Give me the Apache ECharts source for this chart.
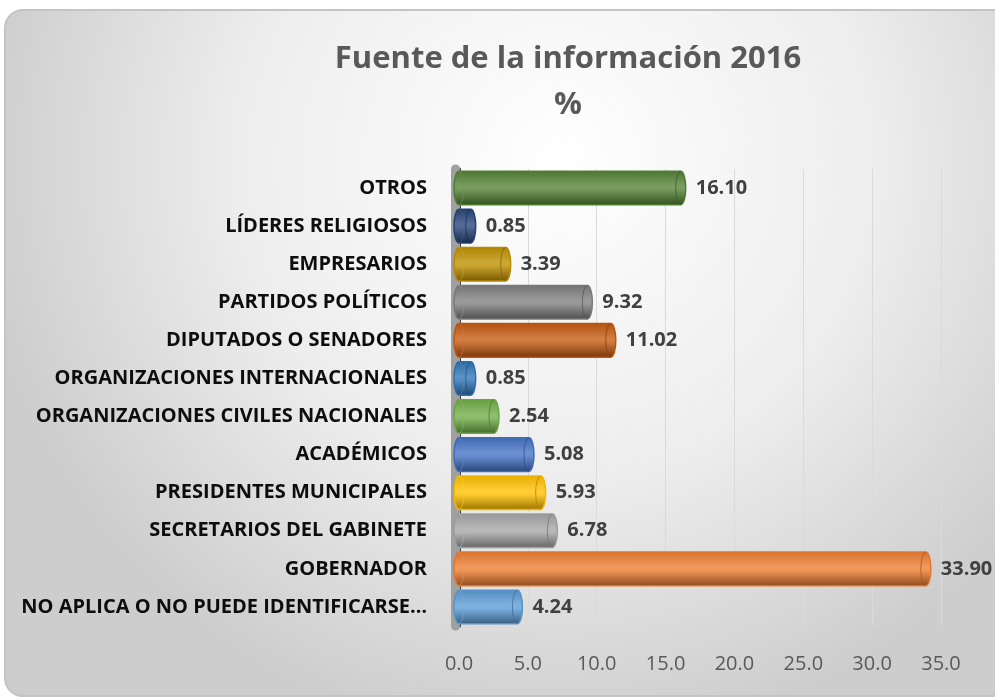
<!DOCTYPE html>
<html><head><meta charset="utf-8">
<script src="https://cdn.jsdelivr.net/npm/echarts@6/dist/echarts.min.js"></script>
<style>html,body{margin:0;padding:0;background:#fff}#c{width:995px;height:699px}</style>
</head><body><div id="c"></div>
<script>
const categories = ["OTROS","LÍDERES RELIGIOSOS","EMPRESARIOS","PARTIDOS POLÍTICOS","DIPUTADOS O SENADORES","ORGANIZACIONES INTERNACIONALES","ORGANIZACIONES CIVILES NACIONALES","ACADÉMICOS","PRESIDENTES MUNICIPALES","SECRETARIOS DEL GABINETE","GOBERNADOR","NO APLICA O NO PUEDE IDENTIFICARSE…"];
const values = [16.10,0.85,3.39,9.32,11.02,0.85,2.54,5.08,5.93,6.78,33.90,4.24];
const barColors = ["#548235","#264478","#bf9000","#7f7f7f","#c55a11","#2e75b6","#70ad47","#4472c4","#ffc000","#a5a5a5","#ed7d31","#5b9bd5"];
const xTicks = [0,5,10,15,20,25,30,35];

function mix(hex, t, target){
  const n=parseInt(hex.slice(1),16); const r=n>>16&255,g=n>>8&255,b=n&255;
  const T=target==='w'?255:0;
  const f=c=>Math.round(c+(T-c)*t);
  return 'rgb('+f(r)+','+f(g)+','+f(b)+')';
}
const FONT='"Open Sans", Lato, sans-serif';
const chart=echarts.init(document.getElementById('c'),null,{renderer:'canvas'});
const data=values.map((v,i)=>[v,i]);
chart.setOption({
  animation:false,
  graphic:[{type:'rect',z:-10,shape:{x:5,y:10,width:1005,height:686,r:18},
    style:{fill:{type:'radial',x:0.55,y:0.22,r:0.85,colorStops:[{offset:0,color:'#ffffff'},{offset:0.55,color:'#ededed'},{offset:1,color:'#cdcdcd'}]},stroke:'#c4c4c4',lineWidth:2}}],
  title:{text:'Fuente de la información 2016\n%',left:563,top:31,textAlign:'center',
    textStyle:{fontFamily:FONT,fontWeight:'bold',fontSize:31,color:'#595959',lineHeight:46}},
  grid:{left:459,right:54,top:169,bottom:73},
  xAxis:{type:'value',min:xTicks[0],max:xTicks[xTicks.length-1],interval:5,
    axisLine:{show:false},axisTick:{show:false},
    splitLine:{lineStyle:{color:'#dadada',width:1}},
    axisLabel:{formatter:v=>v.toFixed(1),fontFamily:FONT,fontSize:20,color:'#595959',margin:28}},
  yAxis:[{type:'category',data:categories,inverse:true,offset:10,
    axisLine:{lineStyle:{color:'#404040',width:3}},axisTick:{show:false},
    axisLabel:{fontFamily:FONT,fontWeight:'bold',fontSize:20,color:'#0d0d0d',margin:22}},
   {type:'category',data:categories,inverse:true,position:'left',offset:4,
    axisLine:{lineStyle:{color:'#a0a0a0',width:9}},axisTick:{show:false},axisLabel:{show:false}}],
  series:[{type:'custom',data:data,encode:{x:0,y:1},
    renderItem:function(params,api){
      const v=api.value(0), idx=api.value(1);
      const s=api.coord([0,idx]), e=api.coord([v,idx]);
      const h=api.size([0,1])[1]*0.88;
      const y=s[1], top=y-h/2, bot=y+h/2, rx=5;
      const x0=s[0], x1=e[0];
      const col=barColors[idx];
      const path='M'+x0+' '+top+' L'+x1+' '+top+' A'+rx+' '+(h/2)+' 0 0 1 '+x1+' '+bot+' L'+x0+' '+bot+' A'+rx+' '+(h/2)+' 0 0 1 '+x0+' '+top+' Z';
      const cap='M'+x1+' '+top+' A'+rx+' '+(h/2)+' 0 0 0 '+x1+' '+bot;
      const lcap='M'+x0+' '+top+' A'+rx+' '+(h/2)+' 0 0 1 '+x0+' '+bot;
      return {type:'group',children:[
        {type:'path',shape:{pathData:path},style:{fill:{type:'linear',x:0,y:0,x2:0,y2:1,colorStops:[
          {offset:0,color:mix(col,0.1,'k')},{offset:0.45,color:mix(col,0.22,'w')},{offset:0.55,color:mix(col,0.18,'w')},{offset:1,color:mix(col,0.4,'k')}]},
          stroke:mix(col,0.05,'k'),lineWidth:1.5}},
        {type:'path',shape:{pathData:cap},style:{fill:null,stroke:mix(col,0.3,'k'),lineWidth:1,opacity:0.8}},
        {type:'path',shape:{pathData:lcap},style:{fill:null,stroke:mix(col,0.15,'w'),lineWidth:1,opacity:0.6}},
        {type:'text',style:{text:v.toFixed(2),x:x1+rx+10,y:y,verticalAlign:'middle',align:'left',
          font:'bold 20px '+FONT,fill:'#404040'}}
      ]};
    }}]
});
</script></body></html>
